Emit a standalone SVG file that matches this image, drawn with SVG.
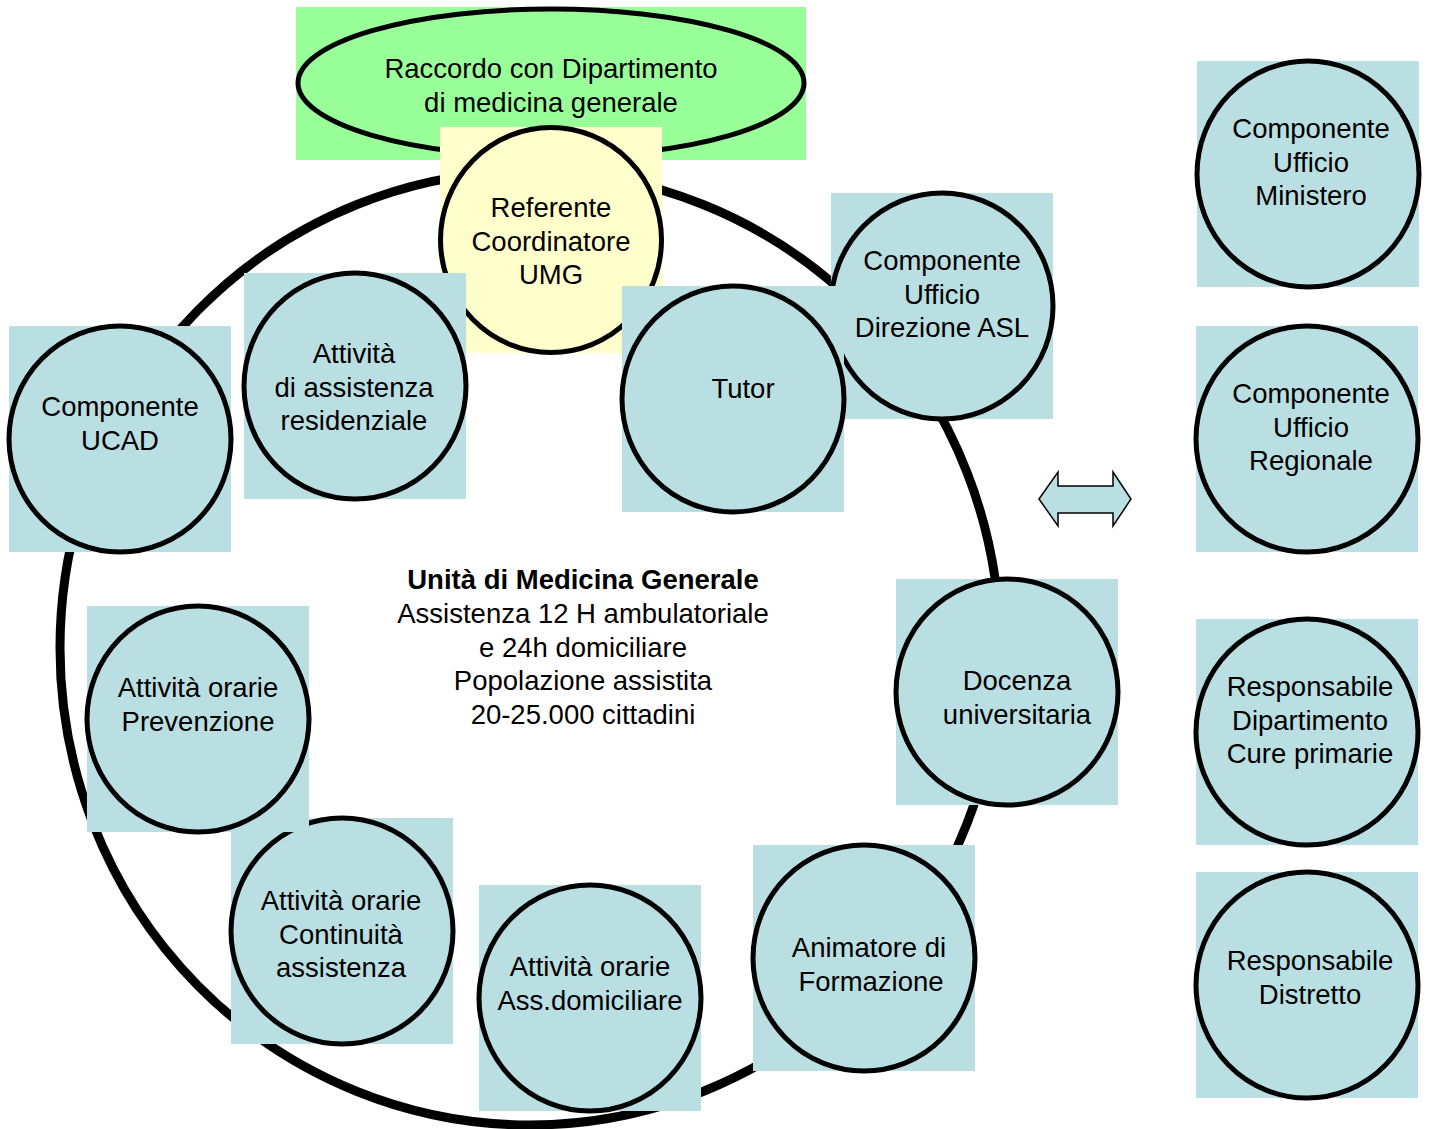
<svg xmlns="http://www.w3.org/2000/svg" width="1429" height="1129" viewBox="0 0 1429 1129">
<style>
  .t{font-family:"Liberation Sans",Arial,sans-serif;font-size:27.5px;fill:#000;text-anchor:middle}
  .b{font-weight:bold}
  .bg{fill:#b9dfe3}
  .c{fill:#b9dfe3;stroke:#000;stroke-width:5}
</style>
<rect width="1429" height="1129" fill="#fff"/>
<ellipse id="ring" cx="530" cy="648" rx="470" ry="477" fill="none" stroke="#000" stroke-width="9"/>
<g id="raccordo">
  <rect x="296" y="7" width="510" height="153" fill="#99ff99"/>
  <ellipse cx="551" cy="83" rx="253" ry="74" fill="#99ff99" stroke="#000" stroke-width="5"/>
  <text class="t" x="551" y="78">Raccordo con Dipartimento<tspan x="551" dy="34">di medicina generale</tspan></text>
</g>
<g id="referente">
  <rect x="440" y="127" width="222" height="226" fill="#ffffcc"/>
  <ellipse cx="551" cy="240" rx="110.5" ry="112.5" fill="#ffffcc" stroke="#000" stroke-width="5"/>
  <text class="t" x="551" y="217">Referente<tspan x="551" dy="33.5">Coordinatore</tspan><tspan x="551" dy="33.5">UMG</tspan></text>
</g>
<g id="ucad">
  <rect class="bg" x="9" y="326" width="222" height="226"/>
  <ellipse class="c" cx="120" cy="439" rx="111" ry="113"/>
  <text class="t" x="120" y="416">Componente<tspan x="120" dy="33.5">UCAD</tspan></text>
</g>
<g id="residenziale">
  <rect class="bg" x="244" y="273" width="222" height="226"/>
  <ellipse class="c" cx="355" cy="386" rx="111" ry="113"/>
  <text class="t" x="354" y="363">Attività<tspan x="354" dy="33.5">di assistenza</tspan><tspan x="354" dy="33.5">residenziale</tspan></text>
</g>
<g id="direzione-asl">
  <rect class="bg" x="831" y="193" width="222" height="226"/>
  <ellipse class="c" cx="942" cy="306" rx="111" ry="113"/>
  <text class="t" x="942" y="270">Componente<tspan x="942" dy="33.5">Ufficio</tspan><tspan x="942" dy="33.5">Direzione ASL</tspan></text>
</g>
<g id="tutor">
  <rect class="bg" x="622" y="286" width="222" height="226"/>
  <ellipse class="c" cx="733" cy="399" rx="111" ry="113"/>
  <text class="t" x="743" y="398">Tutor</text>
</g>
<g id="docenza">
  <rect class="bg" x="896" y="579" width="222" height="226"/>
  <ellipse class="c" cx="1007" cy="692" rx="111" ry="113"/>
  <text class="t" x="1017" y="690">Docenza<tspan x="1017" dy="33.5">universitaria</tspan></text>
</g>
<g id="animatore">
  <rect class="bg" x="753" y="845" width="222" height="226"/>
  <ellipse class="c" cx="864" cy="958" rx="111" ry="113"/>
  <text class="t" x="869" y="957">Animatore di<tspan x="871" dy="33.5">Formazione</tspan></text>
</g>
<g id="ass-domiciliare">
  <rect class="bg" x="479" y="885" width="222" height="226"/>
  <ellipse class="c" cx="590" cy="998" rx="111" ry="113"/>
  <text class="t" x="590" y="976">Attività orarie<tspan x="590" dy="33.5">Ass.domiciliare</tspan></text>
</g>
<g id="continuita">
  <rect class="bg" x="231" y="818" width="222" height="226"/>
  <ellipse class="c" cx="342" cy="931" rx="111" ry="113"/>
  <text class="t" x="341" y="910">Attività orarie<tspan x="341" dy="33.5">Continuità</tspan><tspan x="341" dy="33.5">assistenza</tspan></text>
</g>
<g id="prevenzione">
  <rect class="bg" x="87" y="606" width="222" height="226"/>
  <ellipse class="c" cx="198" cy="719" rx="111" ry="113"/>
  <text class="t" x="198" y="697">Attività orarie<tspan x="198" dy="33.5">Prevenzione</tspan></text>
</g>
<g id="umg-label">
  <text class="t" x="583" y="589"><tspan class="b">Unità di Medicina Generale</tspan><tspan x="583" dy="33.8">Assistenza 12 H ambulatoriale</tspan><tspan x="583" dy="33.8">e 24h domiciliare</tspan><tspan x="583" dy="33.8">Popolazione assistita</tspan><tspan x="583" dy="33.8">20-25.000 cittadini</tspan></text>
</g>
<g id="ministero">
  <rect class="bg" x="1197" y="61" width="222" height="226"/>
  <ellipse class="c" cx="1308" cy="174" rx="111" ry="113"/>
  <text class="t" x="1311" y="138">Componente<tspan x="1311" dy="33.5">Ufficio</tspan><tspan x="1311" dy="33.5">Ministero</tspan></text>
</g>
<g id="regionale">
  <rect class="bg" x="1196" y="326" width="222" height="226"/>
  <ellipse class="c" cx="1307" cy="439" rx="111" ry="113"/>
  <text class="t" x="1311" y="403">Componente<tspan x="1311" dy="33.5">Ufficio</tspan><tspan x="1311" dy="33.5">Regionale</tspan></text>
</g>
<g id="cure-primarie">
  <rect class="bg" x="1196" y="619" width="222" height="226"/>
  <ellipse class="c" cx="1307" cy="732" rx="111" ry="113"/>
  <text class="t" x="1310" y="696">Responsabile<tspan x="1310" dy="33.5">Dipartimento</tspan><tspan x="1310" dy="33.5">Cure primarie</tspan></text>
</g>
<g id="distretto">
  <rect class="bg" x="1196" y="872" width="222" height="226"/>
  <ellipse class="c" cx="1307" cy="985" rx="111" ry="113"/>
  <text class="t" x="1310" y="970">Responsabile<tspan x="1310" dy="33.5">Distretto</tspan></text>
</g>
<g id="connectors">
  <path d="M1039,499 L1058,472 L1058,486 L1113,486 L1113,472 L1131,499 L1113,526 L1113,513 L1058,513 L1058,526 Z" fill="#b9dfe3" stroke="#000" stroke-width="1.5" stroke-linejoin="miter"/>
</g>
</svg>
